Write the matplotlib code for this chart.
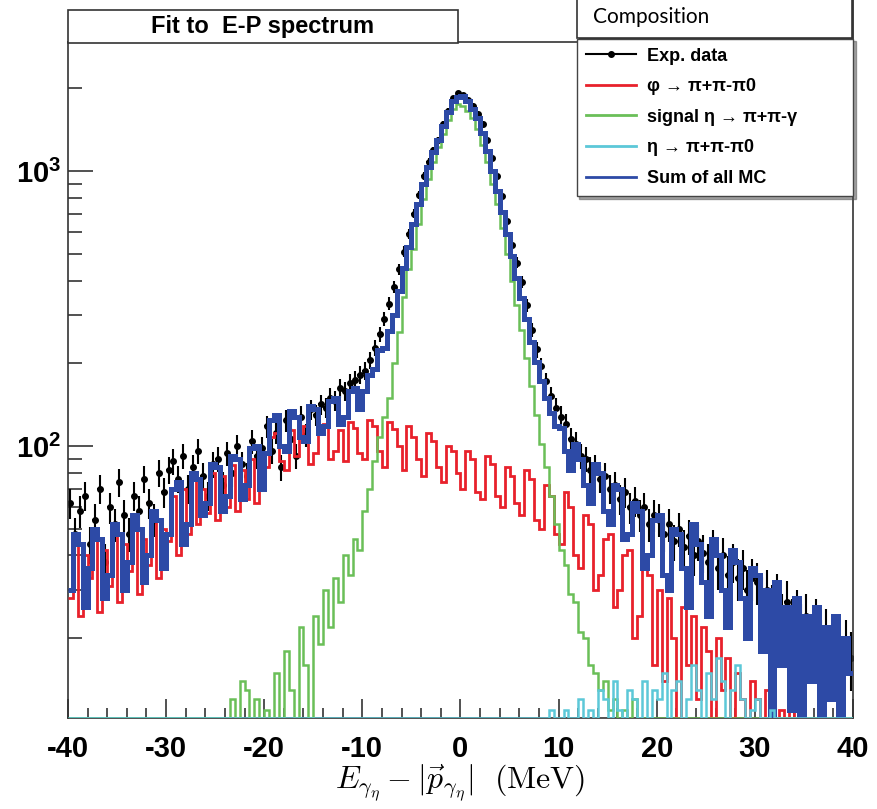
import numpy as np
import matplotlib.pyplot as plt
from matplotlib.lines import Line2D
from matplotlib.patches import Rectangle
from matplotlib.ticker import MultipleLocator, LogLocator, NullFormatter

plt.rcParams['mathtext.fontset'] = 'custom'
plt.rcParams['mathtext.rm'] = 'Liberation Sans:bold'
plt.rcParams['mathtext.it'] = 'Liberation Sans:bold'
plt.rcParams['mathtext.bf'] = 'Liberation Sans:bold'
plt.rcParams['axes.unicode_minus'] = False

# histogram binning: 160 bins of 0.5 MeV from -40 to 40
x_lo, x_hi, n_bins = -40, 40, 160

# experimental data (counts per bin)
exp_data = [
    62, 48, 58, 66, 44, 54, 70, 38, 60, 52, 74, 56, 48, 66, 58, 76, 62, 54, 80, 68,
    82, 88, 76, 92, 70, 84, 96, 78, 66, 86, 90, 72, 94, 80, 100, 86, 78, 104, 92, 98,
    118, 96, 112, 84, 124, 106, 92, 128, 110, 136, 130, 142, 138, 150, 146, 162, 158, 170, 174, 182,
    188, 205, 228, 255, 290, 330, 380, 440, 510, 590, 700, 820, 960, 1080, 1190, 1300, 1480, 1660, 1840, 1920,
    1890, 1820, 1730, 1620, 1480, 1300, 1120, 960, 810, 660, 540, 465, 395, 325, 265, 225, 195, 172, 152, 138,
    128, 120, 106, 102, 92, 90, 82, 84, 76, 78, 70, 72, 64, 68, 60, 63, 56, 60, 52, 56,
    54, 48, 52, 45, 50, 43, 47, 40, 45, 41, 38, 43, 36, 40, 34, 38, 33, 36, 30, 33,
    32, 28, 30, 26, 29, 24, 27, 23, 25, 22, 24, 20, 23, 19, 21, 18, 20, 16, 19, 17,
]

# phi -> pi+ pi- pi0 background
phi_bkg = [
    28, 44, 24, 40, 33, 46, 25, 42, 31, 48, 27, 44, 35, 52, 29, 46, 37, 54, 33, 50,
    45, 66, 40, 70, 48, 75, 52, 70, 57, 80, 54, 78, 60, 85, 58, 82, 64, 90, 62, 88,
    84, 108, 112, 88, 82, 114, 92, 110, 118, 86, 94, 112, 120, 90, 96, 114, 88, 122, 116, 94,
    90, 124, 118, 96, 84, 122, 115, 100, 82, 118, 108, 90, 78, 112, 104, 84, 74, 100, 96, 80,
    70, 96, 90, 68, 64, 92, 86, 66, 60, 84, 78, 62, 56, 82, 76, 54, 50, 72, 66, 48,
    44, 68, 60, 40, 36, 56, 52, 30, 34, 46, 48, 26, 30, 40, 42, 20, 24, 36, 34, 16,
    30, 14, 28, 20, 0, 26, 16, 24, 12, 22, 18, 0, 20, 13, 17, 0, 15, 12, 0, 14,
    12, 0, 13, 0, 0, 11, 0, 12, 0, 0, 0, 0, 0, 0, 0, 0, 0, 0, 0, 0,
]

# signal eta -> pi+ pi- gamma
signal = [
    0, 0, 0, 0, 0, 0, 0, 0, 0, 0, 0, 0, 0, 0, 0, 0, 0, 0, 0, 0,
    0, 0, 0, 0, 0, 0, 0, 0, 0, 0, 0, 0, 0, 12, 0, 14, 13, 0, 12, 0,
    11, 0, 15, 0, 18, 13, 0, 22, 16, 0, 24, 19, 30, 22, 33, 27, 40, 34, 46, 42,
    58, 70, 88, 108, 128, 150, 200, 260, 350, 440, 520, 640, 790, 940, 1080, 1220, 1370, 1540, 1690, 1750,
    1730, 1660, 1560, 1420, 1250, 1080, 900, 760, 620, 500, 400, 325, 265, 210, 165, 130, 102, 84, 66, 52,
    42, 37, 29, 27, 21, 20, 16, 15, 13, 14, 11, 12, 0, 11, 0, 12, 0, 0, 0, 0,
    0, 0, 0, 0, 0, 0, 0, 0, 0, 0, 0, 0, 0, 0, 0, 0, 0, 0, 0, 0,
    0, 0, 0, 0, 0, 0, 0, 0, 0, 0, 0, 0, 0, 0, 0, 0, 0, 0, 0, 0,
]

# eta -> pi+ pi- pi0 background
eta_bkg = [
    0, 0, 0, 0, 0, 0, 0, 0, 0, 0, 0, 0, 0, 0, 0, 0, 0, 0, 0, 0,
    0, 0, 0, 0, 0, 0, 0, 0, 0, 0, 0, 0, 0, 0, 0, 0, 0, 0, 0, 0,
    0, 0, 0, 0, 0, 0, 0, 0, 0, 0, 0, 0, 0, 0, 0, 0, 0, 0, 0, 0,
    0, 0, 0, 0, 0, 0, 0, 0, 0, 0, 0, 0, 0, 0, 0, 0, 0, 0, 0, 0,
    0, 0, 0, 0, 0, 0, 0, 0, 0, 0, 0, 0, 0, 0, 0, 0, 0, 0, 11, 0,
    0, 11, 0, 0, 12, 0, 11, 0, 13, 12, 0, 14, 11, 0, 13, 12, 0, 14, 0, 13,
    12, 15, 0, 13, 14, 0, 12, 16, 13, 0, 15, 12, 17, 14, 0, 13, 16, 12, 0, 11,
    12, 0, 0, 11, 0, 0, 0, 0, 0, 0, 0, 0, 0, 0, 0, 0, 0, 0, 0, 0,
]

# sum of all MC
mc_sum = [
    30, 48, 44, 26, 36, 50, 46, 28, 34, 52, 48, 30, 38, 56, 50, 32, 40, 58, 54, 36,
    48, 70, 74, 44, 52, 80, 76, 56, 62, 86, 84, 58, 66, 92, 90, 64, 72, 98, 100, 70,
    94, 124, 130, 100, 96, 134, 128, 108, 104, 140, 136, 112, 118, 146, 150, 120, 128, 158, 162, 136,
    158, 182, 190, 224, 228, 262, 300, 368, 445, 530, 640, 760, 900, 1040, 1170, 1300, 1460, 1640, 1800, 1860,
    1880, 1800, 1690, 1560, 1380, 1180, 1000, 850, 710, 590, 490, 410, 345, 290, 240, 202, 172, 150, 132, 118,
    116, 96, 82, 102, 90, 72, 62, 86, 80, 58, 52, 72, 70, 46, 48, 62, 58, 36, 40, 54,
    56, 34, 30, 50, 48, 36, 26, 52, 44, 32, 24, 46, 40, 30, 22, 42, 38, 28, 20, 36,
    34, 18, 30, 0, 32, 16, 26, 11, 28, 0, 24, 14, 26, 0, 22, 12, 24, 0, 20, 15,
]

labels = ['Exp. data', 'φ → π+π-π0', 'signal η → π+π-γ', 'η → π+π-π0', 'Sum of all MC']
colors = ['black', '#e8212b', '#6abf58', '#5cc8d8', '#2d4aa6']

edges = np.linspace(x_lo, x_hi, n_bins + 1)
centers = 0.5 * (edges[:-1] + edges[1:])
ymin, ymax = 10.25, 2950

fig = plt.figure(figsize=(8.77, 8.09), dpi=100)
ax = fig.add_axes([0.0775, 0.1125, 0.8951, 0.8355])

data = np.array(exp_data, dtype=float)
ax.errorbar(centers, data, yerr=np.sqrt(data), xerr=0.25, fmt='o', ms=4,
            color='black', elinewidth=1.5, capsize=0, zorder=2)

# ROOT draws empty bins down to the frame, so clip at the lower limit
hists = [(phi_bkg, colors[1], 2.0, 3), (signal, colors[2], 1.8, 4),
         (mc_sum, colors[4], 3.6, 5), (eta_bkg, colors[3], 1.8, 6)]
for vals, col, lw, z in hists:
    ax.stairs(np.clip(np.array(vals, dtype=float), ymin, None), edges,
              baseline=None, color=col, lw=lw, zorder=z)

ax.set_yscale('log')
ax.set_xlim(x_lo, x_hi)
ax.set_ylim(ymin, ymax)

ax.set_xticks(range(-40, 41, 10))
ax.xaxis.set_minor_locator(MultipleLocator(2))
ax.set_yticks([100, 1000])
ax.set_yticklabels([r'$10^{2}$', r'$10^{3}$'], fontsize=21)
ax.yaxis.set_minor_locator(LogLocator(base=10, subs=range(2, 10)))
ax.yaxis.set_minor_formatter(NullFormatter())

ax.tick_params(which='both', direction='in', top=False, right=False, color='#333333')
ax.tick_params(axis='y', which='major', length=18, width=1.2, pad=5)
ax.tick_params(axis='y', which='minor', length=10, width=1.2)
ax.tick_params(axis='x', which='major', length=14, width=1.2, pad=12)
ax.tick_params(axis='x', which='minor', length=7, width=1.2)
for t in ax.get_xticklabels():
    t.set_fontfamily('Liberation Sans')
    t.set_fontweight('bold')
    t.set_fontsize(21)

for s in ax.spines.values():
    s.set_linewidth(1.2)
    s.set_color('#333333')

ax.set_xlabel(r'$E_{\gamma_\eta}-|\vec{p}_{\gamma_\eta}|\ \ \mathrm{(MeV)}$',
              fontsize=23, math_fontfamily='cm', labelpad=0)

# title pave
fig.patches.append(Rectangle((0.0775, 0.9468), 0.4447, 0.0408, transform=fig.transFigure,
                             facecolor='white', edgecolor='#333333', lw=1.2))
fig.text(0.2999, 0.9675, 'Fit to  E-P spectrum', ha='center', va='center',
         fontsize=17, fontweight='bold', family='Liberation Sans')

# composition pave with shadow
fig.patches.append(Rectangle((0.6605, 0.9500), 0.3136, 0.06, transform=fig.transFigure,
                             facecolor='#444444', edgecolor='none'))
fig.patches.append(Rectangle((0.658, 0.953), 0.3136, 0.06, transform=fig.transFigure,
                             facecolor='white', edgecolor='#333333', lw=1.2))
fig.text(0.676, 0.979, 'Composition', ha='left', va='center', fontsize=15, family='Lato')

handles = [Line2D([], [], color=colors[0], marker='o', ms=4, lw=1.5)]
handles += [Line2D([], [], color=c, lw=2.0) for c in colors[1:]]
leg = ax.legend(handles, labels, loc='upper left', bbox_to_anchor=(0.648, 1.005, 0.352, 0),
                mode='expand', borderaxespad=0, frameon=True, fancybox=False, shadow=True,
                edgecolor='#444444', framealpha=1, handlelength=2.8, handletextpad=0.6,
                labelspacing=0.75, borderpad=0.5,
                prop={'family': ['Liberation Sans', 'DejaVu Sans'], 'weight': 'bold', 'size': 13})
leg.set_zorder(10)

fig.savefig('out.png', dpi=100)
